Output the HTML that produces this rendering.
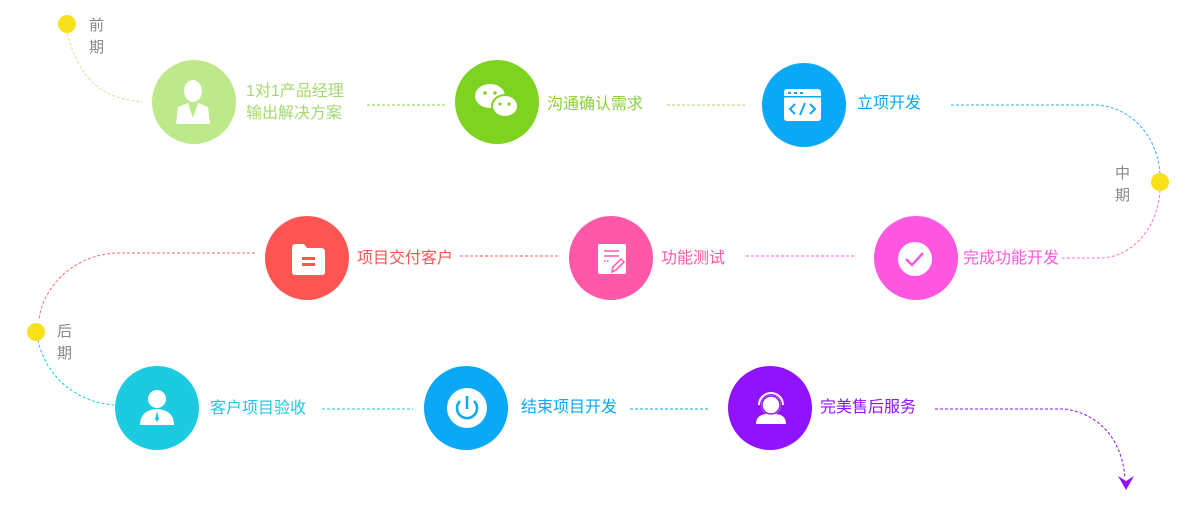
<!DOCTYPE html>
<html><head><meta charset="utf-8"><style>
html,body{margin:0;padding:0;background:#fff;}
svg{display:block;}
text{font-family:"Liberation Sans","Noto Sans CJK SC",sans-serif;font-size:15px;}
text.l{font-size:16px;}
</style></head><body>
<svg width="1197" height="510" viewBox="0 0 1197 510" xmlns="http://www.w3.org/2000/svg">
<g fill="none" stroke-width="1" stroke-dasharray="3,2">
<path d="M67 33 C80 80 100 98 143 102" stroke="#c5e89c"/>
<line x1="367" y1="105" x2="445" y2="105" stroke="#8ccf3c"/>
<line x1="667" y1="105" x2="745" y2="105" stroke="#a8d86a"/>
<path d="M951 105 L1097 105 C1135 108 1158 140 1160 174" stroke="#2fb0f0"/>
<path d="M1160 190 C1158 230 1130 258 1100 258 L1060 258" stroke="#ff70d8"/>
<line x1="460" y1="256" x2="558" y2="256" stroke="#ff5552"/>
<line x1="746" y1="256" x2="855" y2="256" stroke="#ff58c8"/>
<path d="M255 253 L115 253 C70 256 42 290 39 320" stroke="#ff6b68"/>
<path d="M38 340 C45 375 75 402 114 405" stroke="#1ccbe0"/>
<line x1="322" y1="409" x2="413" y2="409" stroke="#1ccbe0"/>
<line x1="630" y1="409" x2="709" y2="409" stroke="#0aa8f5"/>
<path d="M935 409 L1065 409 C1100 414 1122 440 1125 478" stroke="#9013fe"/>
</g>
<path d="M1118 476 L1126 481 L1134 476 L1126 490 Z" fill="#9013fe"/>
<circle cx="67" cy="24" r="9" fill="#f8e11a"/>
<circle cx="1160" cy="182" r="9" fill="#f8e11a"/>
<circle cx="36" cy="332" r="9" fill="#f8e11a"/>
<g fill="#888"><text x="89" y="30">前</text><text x="89" y="52">期</text>
<text x="1115" y="178">中</text><text x="1115" y="200">期</text>
<text x="57" y="336">后</text><text x="57" y="358">期</text></g>

<circle cx="194" cy="102" r="42" fill="#bde98a"/>
<g fill="#fff"><ellipse cx="193" cy="91" rx="9" ry="11"/><path d="M176 124 L178 107 L188 103 L193 118 L198 103 L208 107 L210 124 Z"/></g>
<circle cx="497" cy="102" r="42" fill="#7ed321"/>
<g fill="#fff"><ellipse cx="490" cy="96" rx="15" ry="12"/><ellipse cx="505" cy="106" rx="13" ry="11" stroke="#7ed321" stroke-width="2"/></g>
<g fill="#7ed321"><circle cx="485" cy="93" r="1.8"/><circle cx="495" cy="93" r="1.8"/><circle cx="500" cy="104" r="1.6"/><circle cx="509" cy="104" r="1.6"/></g>
<circle cx="804" cy="105" r="42" fill="#0aa8f5"/>
<rect x="784" y="89" width="37" height="32" rx="3" fill="#fff"/>
<g fill="#0aa8f5"><rect x="788" y="92" width="3" height="2"/><rect x="794" y="92" width="3" height="2"/><rect x="800" y="92" width="3" height="2"/><rect x="784" y="96" width="37" height="1.5"/></g>
<g fill="none" stroke="#0aa8f5" stroke-width="2"><path d="M795 104 L790 109 L795 114"/><path d="M810 104 L815 109 L810 114"/><path d="M805 103 L800 115"/></g>

<circle cx="307" cy="258" r="42" fill="#ff5552"/>
<path d="M292 248 Q292 244 296 244 L304 244 L307 248 L321 248 Q325 248 325 252 L325 272 Q325 275 322 275 L295 275 Q292 275 292 272 Z" fill="#fff"/>
<g fill="#ff5552"><rect x="302" y="257" width="13" height="3"/><rect x="302" y="263" width="13" height="3"/></g>
<circle cx="611" cy="258" r="42" fill="#ff58a8"/>
<rect x="598" y="244" width="28" height="30" rx="2" fill="#fff"/>
<g stroke="#ff58a8" stroke-width="1.5" fill="none"><path d="M604 251 H619 M604 256 H619"/><path d="M604 261 H610" stroke-dasharray="1.5,1.5"/><path d="M612 272 L613 267 L621 259 L624 262 L616 270 Z"/></g>
<circle cx="916" cy="258" r="42" fill="#ff57e0"/>
<circle cx="915" cy="259" r="17" fill="#fff"/>
<path d="M906 259 L912 265 L923 253" fill="none" stroke="#ff57e0" stroke-width="2.5"/>

<circle cx="157" cy="408" r="42" fill="#1ccbe0"/>
<g fill="#fff"><circle cx="157" cy="399" r="9"/><path d="M140 425 Q140 410 157 409 Q174 410 174 425 Z"/></g>
<path d="M157 411 L155 419 L157 422 L159 419 Z" fill="#1ccbe0"/>
<circle cx="466" cy="408" r="42" fill="#0aa8f5"/>
<circle cx="467" cy="408" r="20" fill="#fff"/>
<path d="M460 401 A10 10 0 1 0 474 401" fill="none" stroke="#0aa8f5" stroke-width="2.5"/>
<line x1="467" y1="396" x2="467" y2="409" stroke="#0aa8f5" stroke-width="2.5"/>
<circle cx="770" cy="408" r="42" fill="#9013fe"/>
<g fill="#fff"><circle cx="771" cy="405" r="10"/><path d="M756 424 Q756 413 771 414 Q786 413 786 424 Z"/></g>
<path d="M759 405 A12 12 0 0 1 783 405" fill="none" stroke="#fff" stroke-width="2"/>
<circle cx="771" cy="405" r="9" fill="#fff" stroke="#9013fe" stroke-width="1.5"/>

<text class="l" x="246" y="96" fill="#a6d86e">1对1产品经理</text>
<text class="l" x="246" y="118" fill="#a6d86e">输出解决方案</text>
<text class="l" x="547" y="109" fill="#8ccf3c">沟通确认需求</text>
<text class="l" x="857" y="108" fill="#0aa8f5">立项开发</text>
<text class="l" x="357" y="263" fill="#ff5552">项目交付客户</text>
<text class="l" x="661" y="263" fill="#ff58a8">功能测试</text>
<text class="l" x="963" y="263" fill="#ff57e0">完成功能开发</text>
<text class="l" x="210" y="413" fill="#1ccbe0">客户项目验收</text>
<text class="l" x="521" y="412" fill="#0aa8f5">结束项目开发</text>
<text class="l" x="820" y="412" fill="#9013fe">完美售后服务</text>
</svg>
</body></html>
